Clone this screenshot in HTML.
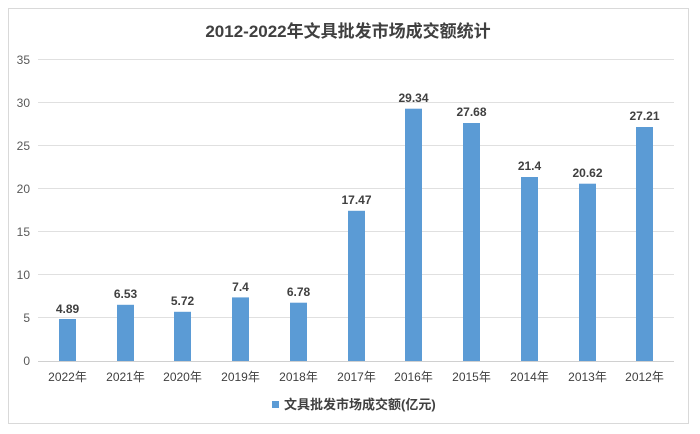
<!DOCTYPE html>
<html><head><meta charset="utf-8"><style>body{margin:0;background:#fff}svg{display:block}text{font-family:"Liberation Sans","Noto Sans CJK SC",sans-serif}</style></head><body>
<svg width="700" height="434" viewBox="0 0 700 434" xmlns="http://www.w3.org/2000/svg">
<rect x="0" y="0" width="700" height="434" fill="#fff"/>
<rect x="8.5" y="8.5" width="680" height="415" fill="#fff" stroke="#d9d9d9"/>
<text x="348" y="37" text-anchor="middle" font-size="17" font-weight="bold" fill="#404040">2012-2022年文具批发市场成交额统计</text>
<g stroke="#e0e0e0" stroke-width="1">
<line x1="38" x2="674" y1="59.5" y2="59.5"/><line x1="38" x2="674" y1="102.5" y2="102.5"/><line x1="38" x2="674" y1="145.5" y2="145.5"/><line x1="38" x2="674" y1="188.5" y2="188.5"/><line x1="38" x2="674" y1="231.5" y2="231.5"/><line x1="38" x2="674" y1="274.5" y2="274.5"/><line x1="38" x2="674" y1="317.5" y2="317.5"/><line x1="38" x2="674" y1="361.5" y2="361.5" stroke="#d0d0d0"/>
</g>
<g font-size="12" fill="#595959" text-anchor="end">
<text x="30" y="64">35</text><text x="30" y="107">30</text><text x="30" y="150">25</text><text x="30" y="193">20</text><text x="30" y="236">15</text><text x="30" y="279">10</text><text x="30" y="322">5</text><text x="30" y="365">0</text>
</g>
<g fill="#5b9bd5">
<rect x="59" y="319" width="17" height="42"/>
<rect x="117" y="304.8" width="17" height="56.2"/>
<rect x="174" y="311.8" width="17" height="49.2"/>
<rect x="232" y="297.4" width="17" height="63.6"/>
<rect x="290" y="302.7" width="17" height="58.3"/>
<rect x="348" y="210.8" width="17" height="150.2"/>
<rect x="405" y="108.7" width="17" height="252.3"/>
<rect x="463" y="123" width="17" height="238"/>
<rect x="521" y="177" width="17" height="184"/>
<rect x="579" y="183.7" width="17" height="177.3"/>
<rect x="636" y="127" width="17" height="234"/>
</g>
<g font-size="12" font-weight="bold" fill="#404040" text-anchor="middle">
<text x="67.5" y="313">4.89</text><text x="125.5" y="298">6.53</text><text x="182.5" y="305">5.72</text><text x="240.5" y="291">7.4</text><text x="298.5" y="296">6.78</text><text x="356.5" y="204">17.47</text><text x="413.5" y="102">29.34</text><text x="471.5" y="116">27.68</text><text x="529.5" y="170">21.4</text><text x="587.5" y="177">20.62</text><text x="644.5" y="120">27.21</text>
</g>
<g font-size="12" fill="#404040" text-anchor="middle">
<text x="67.5" y="381">2022年</text><text x="125.5" y="381">2021年</text><text x="182.5" y="381">2020年</text><text x="240.5" y="381">2019年</text><text x="298.5" y="381">2018年</text><text x="356.5" y="381">2017年</text><text x="413.5" y="381">2016年</text><text x="471.5" y="381">2015年</text><text x="529.5" y="381">2014年</text><text x="587.5" y="381">2013年</text><text x="644.5" y="381">2012年</text>
</g>
<rect x="272" y="401" width="7" height="7" fill="#5b9bd5"/>
<text x="284" y="409" font-size="13" font-weight="bold" fill="#404040">文具批发市场成交额(亿元)</text>
</svg>
</body></html>
